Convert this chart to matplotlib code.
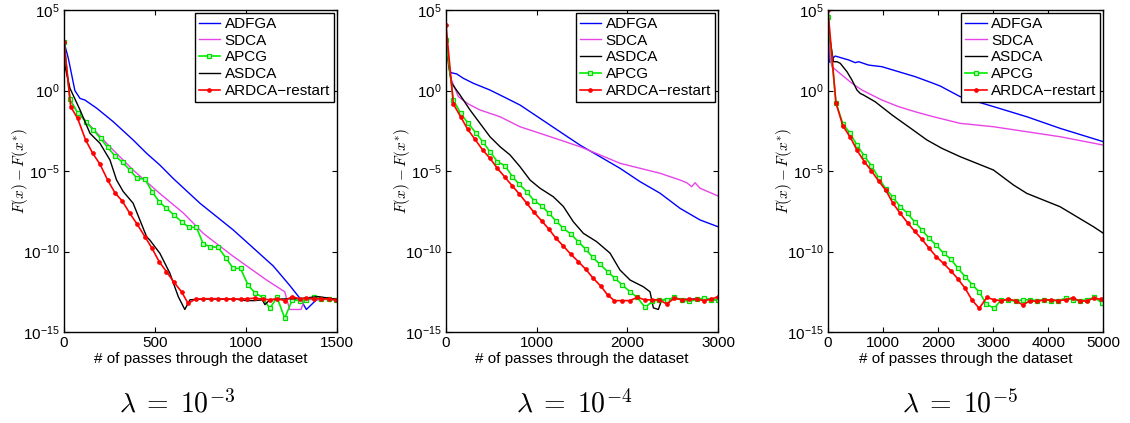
import numpy as np
import matplotlib
matplotlib.use('Agg')
import matplotlib.pyplot as plt
from matplotlib.ticker import NullLocator

plt.rcParams['font.family'] = ['Liberation Sans', 'DejaVu Sans']
plt.rcParams['mathtext.fontset'] = 'cm'

'''Data read from the figure: x = passes, values stored as log10(F(x)-F(x*))'''
# lambda = 1e-3
p1_adfga_x = [0, 24, 60, 88, 115, 180, 271, 380, 454, 527, 600, 747, 930, 1150, 1240, 1296, 1332, 1387, 1440, 1500]
p1_adfga_v = [3.03, 2.0, 0.0, -0.49, -0.59, -1.1, -1.94, -3.07, -3.9, -4.63, -5.46, -7.0, -8.66, -10.9, -12.1, -12.9, -13.6, -13.0, -12.95, -13.0]
p1_sdca_x = [0, 33, 75, 124, 253, 380, 527, 655, 765, 930, 1113, 1213, 1240, 1302, 1323, 1400, 1500]
p1_sdca_v = [3.03, -0.55, -1.38, -1.94, -3.5, -4.94, -6.4, -7.6, -8.87, -10.3, -11.77, -12.5, -13.6, -13.6, -13.0, -12.97, -13.0]
p1_apcg_x = [0, 33, 75, 121, 161, 201, 240, 280, 322, 362, 402, 445, 484, 523, 563, 605, 646, 687, 728,
             765, 805, 847, 889, 930, 970, 1012, 1049, 1091, 1131, 1171, 1213, 1254, 1296, 1332, 1374, 1415, 1457, 1493]
p1_apcg_v = [3.03, -0.55, -1.38, -1.94, -2.45, -2.97, -3.53, -4.05, -4.46, -4.94, -5.46, -5.5, -6.28, -6.9, -7.32,
             -7.73, -8.15, -8.5, -8.5, -9.53, -9.7, -9.74, -10.38, -11.05, -11.05, -12.1, -12.56, -12.85, -13.53,
             -12.85, -14.15, -13.0, -13.05, -13.0, -12.85, -12.96, -12.96, -13.0]
p1_asdca_x = [0, 33, 88, 143, 198, 253, 289, 326, 380, 417, 454, 472, 527, 582, 628, 664, 692, 750, 850, 950,
              1000, 1050, 1090, 1104, 1131, 1200, 1300, 1396, 1500]
p1_asdca_v = [1.8, 0.14, -1.2, -2.66, -3.28, -4.32, -5.56, -6.28, -7.0, -8.04, -9.08, -9.29, -10.11, -11.35, -12.8,
              -13.6, -13.0, -12.95, -12.95, -12.97, -13.05, -13.05, -13.0, -13.3, -13.0, -12.95, -12.92, -12.8, -12.97]
p1_ardca_x = [0, 37, 75, 119, 158, 198, 240, 280, 320, 362, 402, 445, 484, 523, 563, 604, 646, 682, 723,
              765, 807, 847, 889, 930, 970, 1008, 1049, 1091, 1131, 1171, 1213, 1254, 1296, 1332, 1374, 1415, 1457, 1493]
p1_ardca_v = [3.03, -1.0, -1.73, -3.07, -3.9, -4.58, -5.56, -6.35, -6.86, -7.63, -8.3, -9.08, -9.8, -10.63, -11.25,
              -11.9, -12.5, -13.22, -12.95, -12.93, -12.93, -12.93, -12.95, -12.95, -12.95, -12.93, -12.9, -12.95,
              -13.0, -12.93, -13.05, -12.8, -12.95, -12.9, -12.92, -12.93, -12.95, -13.0]

# lambda = 1e-4
p2_adfga_x = [0, 44, 62, 118, 191, 301, 485, 632, 816, 1037, 1257, 1478, 1699, 1919, 2140, 2361, 2582, 2802, 3000]
p2_adfga_v = [3.14, 1.17, 1.1, 1.03, 0.76, 0.45, 0.03, -0.38, -0.9, -1.73, -2.56, -3.39, -4.11, -4.83, -5.66, -6.38, -7.32, -8.04, -8.46]
p2_sdca_x = [0, 50, 136, 250, 375, 596, 816, 1037, 1257, 1478, 1699, 1919, 2140, 2361, 2582, 2655, 2710, 2747, 2802, 3000]
p2_sdca_v = [3.14, 0.8, -0.38, -0.85, -1.21, -1.63, -2.25, -2.66, -3.07, -3.49, -4.0, -4.52, -4.83, -5.14, -5.56, -5.73, -5.97, -5.73, -6.07, -6.55]
p2_asdca_x = [0, 30, 62, 155, 265, 375, 485, 596, 706, 816, 927, 1037, 1184, 1294, 1404, 1515, 1662, 1809, 1919, 2030,
              2177, 2250, 2287, 2342, 2379, 2450, 2550, 2650, 2750, 2850, 2950, 3000]
p2_asdca_v = [3.14, 1.5, 0.45, -0.28, -1.21, -2.04, -2.87, -3.49, -4.0, -4.73, -5.56, -6.07, -6.6, -7.2, -8.15, -8.87,
              -9.39, -10.1, -11.15, -11.77, -12.19, -12.5, -13.5, -13.6, -13.0, -12.95, -12.92, -12.97, -12.95, -12.93, -13.0, -12.97]
p2_apcg_x = [0, 81, 162, 239, 327, 405, 485, 566, 651, 732, 809, 890, 971, 1056, 1136, 1213, 1294, 1375, 1460, 1541,
             1618, 1699, 1783, 1864, 1945, 2030, 2110, 2195, 2276, 2354, 2434, 2519, 2600, 2683, 2765, 2846, 2924, 3000]
p2_apcg_v = [3.14, -0.59, -1.42, -2.0, -2.62, -3.18, -3.8, -4.42, -4.67, -5.35, -5.83, -6.28, -6.84, -7.17, -7.63,
             -8.1, -8.56, -8.91, -9.39, -9.86, -10.36, -10.8, -11.25, -11.67, -12.08, -12.5, -12.85, -13.47, -13.1,
             -13.0, -13.0, -12.85, -13.0, -13.1, -12.97, -12.9, -13.0, -13.0]
p2_ardca_x = [0, 81, 162, 239, 320, 405, 485, 566, 651, 732, 809, 890, 971, 1056, 1136, 1213, 1294, 1375, 1460, 1541,
              1625, 1706, 1783, 1857, 1942, 2027, 2110, 2195, 2270, 2354, 2434, 2519, 2600, 2683, 2765, 2846, 2924, 3000]
p2_ardca_v = [4.07, -0.84, -1.63, -2.41, -3.03, -3.7, -4.21, -4.83, -5.39, -5.93, -6.43, -7.0, -7.57, -8.1, -8.62,
              -9.18, -9.66, -10.16, -10.63, -11.1, -11.67, -12.14, -12.7, -13.05, -13.05, -13.05, -12.85, -13.0,
              -13.0, -13.0, -13.26, -12.9, -13.0, -12.97, -12.97, -13.05, -12.97, -12.8]

# lambda = 1e-5
p3_adfga_x = [0, 35, 80, 133, 374, 495, 556, 737, 979, 1281, 1584, 1886, 2037, 2400, 3005, 3610, 4214, 5000]
p3_adfga_v = [4.55, 1.75, 2.0, 2.14, 1.9, 1.73, 1.79, 1.58, 1.48, 1.17, 0.86, 0.48, 0.28, -0.38, -1.0, -1.63, -2.35, -3.18]
p3_sdca_x = [0, 40, 72, 254, 436, 617, 979, 1281, 1584, 1917, 2400, 3005, 3610, 4214, 5000]
p3_sdca_v = [4.55, 2.0, 1.48, 0.96, 0.45, 0.03, -0.59, -1.0, -1.32, -1.63, -2.04, -2.25, -2.56, -2.87, -3.39]
p3_asdca_x = [0, 100, 163, 223, 345, 436, 526, 586, 646, 858, 1175, 1524, 1795, 2067, 2400, 3005, 3368, 3610, 4214, 4819, 5000]
p3_asdca_v = [4.0, 1.79, 1.79, 1.69, 1.17, 0.65, 0.03, -0.18, -0.28, -0.7, -1.55, -2.4, -3.07, -3.59, -4.11, -4.94,
              -5.87, -6.39, -7.22, -8.46, -8.87]
p3_apcg_x = [0, 145, 272, 405, 526, 660, 787, 920, 1052, 1179, 1312, 1444, 1571, 1705, 1838, 1965, 2098, 2231, 2358,
             2491, 2623, 2745, 2872, 3017, 3144, 3276, 3409, 3537, 3669, 3790, 3923, 4050, 4183, 4316, 4444, 4577, 4710, 4831, 4970]
p3_apcg_v = [4.55, -0.76, -2.08, -2.66, -3.39, -4.07, -4.67, -5.42, -6.12, -6.63, -7.21, -7.63, -8.15, -8.66, -9.18,
             -9.6, -10.11, -10.47, -11.04, -11.56, -12.08, -12.5, -13.26, -13.53, -13.0, -13.0, -13.1, -13.0, -13.0,
             -13.05, -13.0, -13.05, -13.05, -12.9, -13.0, -13.05, -13.0, -12.85, -13.18]
p3_ardca_x = [0, 145, 272, 405, 526, 660, 787, 920, 1052, 1179, 1312, 1444, 1571, 1705, 1838, 1965, 2098, 2231, 2358,
              2491, 2612, 2745, 2884, 3017, 3144, 3276, 3409, 3537, 3669, 3790, 3923, 4050, 4183, 4316, 4444, 4577, 4710, 4831, 4964]
p3_ardca_v = [5.0, -0.76, -2.2, -2.9, -3.7, -4.42, -4.98, -5.62, -6.2, -7.0, -7.63, -8.21, -8.73, -9.24, -9.8,
              -10.32, -10.74, -11.2, -11.7, -12.29, -13.0, -13.53, -12.85, -13.0, -13.05, -12.97, -13.05, -13.32,
              -13.05, -13.1, -13.0, -13.0, -13.05, -13.0, -12.87, -13.1, -13.05, -12.9, -12.97]

order_1 = ['ADFGA', 'SDCA', 'APCG', 'ASDCA', 'ARDCA\u2212restart']
order_23 = ['ADFGA', 'SDCA', 'ASDCA', 'APCG', 'ARDCA\u2212restart']
lambda_labels = [r'$\lambda \;=\; 10^{-3}$', r'$\lambda \;=\; 10^{-4}$', r'$\lambda \;=\; 10^{-5}$']
xticks_1 = [0, 500, 1000, 1500]
xticks_2 = [0, 1000, 2000, 3000]
xticks_3 = [0, 1000, 2000, 3000, 4000, 5000]
ytick_exp = [5, 0, -5, -10, -15]

STYLE = {
    'ADFGA': dict(color='#0000ff', lw=1.0),
    'SDCA': dict(color='#e844e8', lw=1.0),
    'ASDCA': dict(color='k', lw=1.0),
    'APCG': dict(color='#00ee00', lw=1.2, marker='s', ms=3.2, mfc='#b8ffb8', mec='#00dd00', mew=0.9),
    'ARDCA\u2212restart': dict(color='#ff0000', lw=1.2, marker='o', ms=2.8, mfc='#ff0000', mec='#ff0000', mew=0.5),
}

def draw_panel(ax, series, order, xmax, xticks):
    for name in order:
        x, v = series[name]
        ax.semilogy(x, 10.0 ** np.asarray(v), label=name, **STYLE[name])
    ax.set_xlim(0, xmax)
    ax.set_ylim(1e-15, 1e5)
    ax.set_xticks(xticks)
    ax.set_xticklabels([str(t) for t in xticks], fontsize=11)
    ax.set_yticks([10.0 ** e for e in ytick_exp])
    ax.set_yticklabels([r'$\mathregular{10^{%d}}$' % e for e in ytick_exp], fontsize=11)
    ax.yaxis.set_minor_locator(NullLocator())
    ax.tick_params(direction='in', length=3.5, width=0.8, top=True, right=True, pad=3)
    for sp in ax.spines.values():
        sp.set_linewidth(1.0)
    ax.set_xlabel('# of passes through the dataset', fontsize=11, labelpad=1)
    ax.set_ylabel(r'$F(x) - F(x^{*})$', fontsize=11)
    ax.yaxis.set_label_coords(-0.125, 0.5)
    leg = ax.legend(loc='upper right', fontsize=11, fancybox=False, edgecolor='k', framealpha=1,
                    borderaxespad=0.2, handlelength=1.4, handletextpad=0.3, labelspacing=0.18,
                    borderpad=0.25, numpoints=1)
    leg.get_frame().set_linewidth(1.0)
    return ax

fig = plt.figure(figsize=(11.3, 4.23), dpi=100)
ax1 = fig.add_axes([0.0566, 0.2151, 0.2416, 0.7612])
ax2 = fig.add_axes([0.3947, 0.2151, 0.2407, 0.7612])
ax3 = fig.add_axes([0.7327, 0.2151, 0.2438, 0.7612])

series_1 = {'ADFGA': (p1_adfga_x, p1_adfga_v), 'SDCA': (p1_sdca_x, p1_sdca_v), 'APCG': (p1_apcg_x, p1_apcg_v),
            'ASDCA': (p1_asdca_x, p1_asdca_v), 'ARDCA\u2212restart': (p1_ardca_x, p1_ardca_v)}
series_2 = {'ADFGA': (p2_adfga_x, p2_adfga_v), 'SDCA': (p2_sdca_x, p2_sdca_v), 'APCG': (p2_apcg_x, p2_apcg_v),
            'ASDCA': (p2_asdca_x, p2_asdca_v), 'ARDCA\u2212restart': (p2_ardca_x, p2_ardca_v)}
series_3 = {'ADFGA': (p3_adfga_x, p3_adfga_v), 'SDCA': (p3_sdca_x, p3_sdca_v), 'APCG': (p3_apcg_x, p3_apcg_v),
            'ASDCA': (p3_asdca_x, p3_asdca_v), 'ARDCA\u2212restart': (p3_ardca_x, p3_ardca_v)}

draw_panel(ax1, series_1, order_1, 1500, xticks_1)
draw_panel(ax2, series_2, order_23, 3000, xticks_2)
draw_panel(ax3, series_3, order_23, 5000, xticks_3)

# lambda captions under each panel
for xc, lab in zip([0.1566, 0.508, 0.8496], lambda_labels):
    fig.text(xc, 0.026, lab, fontsize=20, ha='center', va='baseline')

fig.savefig('out.png', dpi=100)
